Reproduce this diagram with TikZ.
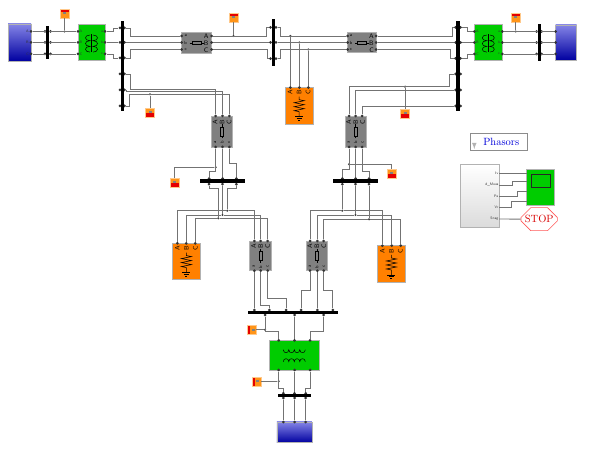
\documentclass[tikz,border=0pt]{standalone}
\usepackage{xcolor}
\usepackage{tikz}
\usetikzlibrary{shapes.misc}
\usetikzlibrary{positioning}
\definecolor{srctop}{HTML}{8484E6}
\definecolor{srcbot}{HTML}{0000A0}
\definecolor{xfgreen}{HTML}{00CC00}
\definecolor{loadorange}{HTML}{FF8000}
\definecolor{brkgray}{HTML}{808080}
\definecolor{tagorange}{HTML}{FF9418}
\tikzset{
  port/.style={circle,fill=black!80,inner sep=0pt,minimum size=3pt},
  jdot/.style={circle,fill=black!75,inner sep=0pt,minimum size=2.4pt},
  wire/.style={draw=black!55,line width=0.9pt},
  busbar/.style={rectangle,fill=black,inner sep=0pt},
  block/.style={rectangle,draw=black!30,line width=0.7pt,inner sep=0pt},
  srcblock/.style={block,top color=srctop,bottom color=srcbot},
  xfblock/.style={block,fill=xfgreen},
  loadblock/.style={block,fill=loadorange,minimum width=28pt,minimum height=36.5pt},
  brkblock/.style={block,fill=brkgray},
  tinytxt/.style={font=\fontsize{3.6}{4}\sffamily,inner sep=0pt,text=black!80},
  bigtxt/.style={font=\fontsize{6.5}{7}\sffamily,inner sep=0pt,text=black,transform shape},
  tagblock/.style={rectangle,inner sep=0pt,minimum width=9pt,minimum height=9pt,fill=tagorange,draw=tagorange!50},
  tagtop/.style={tagblock,path picture={\fill[red!90!black] (path picture bounding box.north west) rectangle ([yshift=-3pt]path picture bounding box.north east); \fill[black!50] (-1.5,-1) rectangle (1.5,1);}},
  tagbot/.style={tagblock,path picture={\fill[red!90!black] (path picture bounding box.south west) rectangle ([yshift=3.5pt]path picture bounding box.south east); \fill[black!50] (-1.5,-1) rectangle (1.5,1);}},
  tagleft/.style={tagblock,path picture={\fill[red!90!black] (path picture bounding box.south west) rectangle ([xshift=3pt]path picture bounding box.north west); \fill[black!50] (0,-1) rectangle (3,1);}},
  xfsymh/.pic={
    \draw[black,line width=0.5pt] (-11,-6) .. controls +(0,4) and +(0,4) .. ++(5.5,0) .. controls +(0,4) and +(0,4) .. ++(5.5,0) .. controls +(0,4) and +(0,4) .. ++(5.5,0) .. controls +(0,4) and +(0,4) .. ++(5.5,0);
    \draw[black,line width=0.5pt] (-11,6) .. controls +(0,-4) and +(0,-4) .. ++(5.5,0) .. controls +(0,-4) and +(0,-4) .. ++(5.5,0) .. controls +(0,-4) and +(0,-4) .. ++(5.5,0) .. controls +(0,-4) and +(0,-4) .. ++(5.5,0);
  },
  xfsymv/.pic={
    \draw[black,line width=0.5pt] (-1.5,-8.5) .. controls +(-6,0) and +(-6,0) .. ++(0,5.7) .. controls +(-6,0) and +(-6,0) .. ++(0,5.7) .. controls +(-6,0) and +(-6,0) .. ++(0,5.7);
    \draw[black,line width=0.5pt] (1.5,-8.5) .. controls +(6,0) and +(6,0) .. ++(0,5.7) .. controls +(6,0) and +(6,0) .. ++(0,5.7) .. controls +(6,0) and +(6,0) .. ++(0,5.7);
    \draw[black,line width=0.5pt] (0,-9) -- (0,9);
  },
  brksym/.pic={
    \draw[black,line width=0.5pt] (-7,0) -- (-4.5,0) (4.5,0) -- (7,0);
    \draw[black,line width=0.5pt] (-4.5,-1.5) rectangle (4.5,1.5);
    \node[bigtxt] (a) at (-11,-7) {\fontsize{4.5}{5}\selectfont a};
    \node[bigtxt] (b) at (-11,0) {\fontsize{4.5}{5}\selectfont b};
    \node[bigtxt] (c) at (-11,7) {\fontsize{4.5}{5}\selectfont c};
    \node[bigtxt] (A) at (9.5,-7) {A};
    \node[bigtxt] (B) at (9.5,0) {B};
    \node[bigtxt] (C) at (9.5,7) {C};
  },
  loadsym/.pic={
    \draw[black,line width=0.55pt] (0,-9) -- (0,-6) -- (5,-5) -- (-5,-3) -- (5,-1) -- (-5,1) -- (5,3) -- (-5,5) -- (0,6) -- (0,11);
    \draw[black,line width=0.55pt] (-4,11) -- (4,11) (-2.5,12.7) -- (2.5,12.7) (-1,14.2) -- (1,14.2);
    \node[bigtxt,rotate=90] (A) at (-9,-13) {A};
    \node[bigtxt,rotate=90] (B) at (0,-13) {B};
    \node[bigtxt,rotate=90] (C) at (9,-13) {C};
  }
}
\begin{document}
\begin{tikzpicture}[x=1pt,y=-1pt]
    \useasboundingbox (0,0) rectangle (595,449);
    % blocks
    \node[srcblock,minimum width=23pt,minimum height=37pt] (srcL) at (19.5,42.5) {};
    \node[srcblock,minimum width=21pt,minimum height=35pt] (srcR) at (566.2,42.5) {};
    \node[srcblock,minimum width=35pt,minimum height=20.5pt] (srcB) at (294.4,432.2) {};
    \node[xfblock,minimum width=27pt,minimum height=36pt] (xfL) at (91.5,42.4) {};
    \node[xfblock,minimum width=28pt,minimum height=36pt] (xfR) at (488.3,42.4) {};
    \node[xfblock,minimum width=50pt,minimum height=29.7pt] (xfB) at (294.3,355.2) {};
    \node[brkblock,minimum width=30pt,minimum height=21pt] (brkL) at (196.7,42.8) {};
    \node[brkblock,minimum width=28.5pt,minimum height=20pt] (brkR) at (362,42.8) {};
    \node[brkblock,minimum width=20.6pt,minimum height=31pt] (brkA) at (222,131.5) {};
    \node[brkblock,minimum width=21pt,minimum height=31pt] (brkB) at (355.5,131.5) {};
    \node[brkblock,minimum width=22.4pt,minimum height=29.7pt] (brkC) at (260.5,255.8) {};
    \node[brkblock,minimum width=21.7pt,minimum height=29.7pt] (brkD) at (316.9,255.8) {};
    \node[loadblock] (loadC) at (299.2,105.7) {};
    \node[loadblock] (loadL) at (186.4,261.6) {};
    \node[loadblock] (loadR) at (391.4,264) {};
    % symbols in the blocks
    \pic (symxfL) at (91.5,43.5) {xfsymv};
    \pic (symxfR) at (488.3,43.5) {xfsymv};
    \pic (symxfB) at (294.3,355.7) {xfsymh};
    \pic (symbrkL) at (196.7,42.8) {brksym};
    \pic (symbrkR) at (362,42.8) {brksym};
    \pic (symbrkA) at (222,131.5) [rotate=90] {brksym};
    \pic (symbrkB) at (355.5,131.5) [rotate=90] {brksym};
    \pic (symbrkC) at (260.5,255.8) [rotate=90] {brksym};
    \pic (symbrkD) at (316.9,255.8) [rotate=90] {brksym};
    \pic (symloadC) at (299.2,105.7) {loadsym};
    \pic (symloadL) at (186.4,261.6) {loadsym};
    \pic (symloadR) at (391.4,264) {loadsym};
    % tiny labels
    \node[tinytxt] (srcLa) at (27.5,31.5) {A};
    \node[tinytxt] (srcLb) at (27.5,42.5) {B};
    \node[tinytxt] (srcLc) at (27.5,54) {C};
    \node[tinytxt] (xfLa) at (81,31.5) {A};
    \node[tinytxt] (xfLb) at (81,42.5) {B};
    \node[tinytxt] (xfLc) at (81,54) {C};
    \node[tinytxt] (xfLd) at (102,31.5) {a};
    \node[tinytxt] (xfLe) at (102,42.5) {b};
    \node[tinytxt] (xfLf) at (102,54) {c};
    \node[tinytxt] (xfRa) at (477.5,31.5) {A};
    \node[tinytxt] (xfRb) at (477.5,42.5) {B};
    \node[tinytxt] (xfRc) at (477.5,54) {C};
    \node[tinytxt] (xfRd) at (499,31.5) {a};
    \node[tinytxt] (xfRe) at (499,42.5) {b};
    \node[tinytxt] (xfRf) at (499,54) {c};
    % ports
    \begin{scope}[every node/.style={port}]
      \node (sla) at (31,31.5) {};
      \node (slb) at (31,42.5) {};
      \node (slc) at (31,54) {};
      \node (bala) at (45,31.5) {};
      \node (balb) at (45,42.5) {};
      \node (balc) at (45,54) {};
      \node (bara) at (50.5,31.5) {};
      \node (barb) at (50.5,42.5) {};
      \node (barc) at (50.5,54) {};
      \node (xla) at (78,31.5) {};
      \node (xlb) at (78,42.5) {};
      \node (xlc) at (78,54) {};
      \node (xlA) at (105,31.5) {};
      \node (xlB) at (105,42.5) {};
      \node (xlC) at (105,54) {};
      \node (bbl1) at (120,28) {};
      \node (bbl2) at (120,42.5) {};
      \node (bbl3) at (120,58) {};
      \node (bbl4) at (120,74) {};
      \node (bbl5) at (120,90) {};
      \node (bbl6) at (120,106) {};
      \node (bbr1) at (124.5,28) {};
      \node (bbr2) at (124.5,42.5) {};
      \node (bbr3) at (124.5,58) {};
      \node (bbr4) at (124.5,74) {};
      \node (bbr5) at (124.5,90) {};
      \node (bbr6) at (124.5,106) {};
      \node (kla) at (181.7,36) {};
      \node (klb) at (181.7,42.5) {};
      \node (klc) at (181.7,49.5) {};
      \node (klA) at (211.7,36) {};
      \node (klB) at (211.7,42.5) {};
      \node (klC) at (211.7,49.5) {};
      \node (bcl1) at (270.5,27.3) {};
      \node (bcl2) at (270.5,42.5) {};
      \node (bcl3) at (270.5,58.7) {};
      \node (bcr1) at (276,27.3) {};
      \node (bcr2) at (276,42.5) {};
      \node (bcr3) at (276,58.7) {};
      \node (kra) at (347.7,36) {};
      \node (krb) at (347.7,42.5) {};
      \node (krc) at (347.7,49.5) {};
      \node (krA) at (376.2,36) {};
      \node (krB) at (376.2,42.5) {};
      \node (krC) at (376.2,49.5) {};
      \node (bdl1) at (455.5,27.3) {};
      \node (bdl2) at (455.5,42.5) {};
      \node (bdl3) at (455.5,58.3) {};
      \node (bdl4) at (455.5,74) {};
      \node (bdl5) at (455.5,90) {};
      \node (bdl6) at (455.5,106) {};
      \node (bdr1) at (460.5,27.3) {};
      \node (bdr2) at (460.5,42.5) {};
      \node (bdr3) at (460.5,58.3) {};
      \node (bdr4) at (460.5,74) {};
      \node (bdr5) at (460.5,90) {};
      \node (bdr6) at (460.5,106) {};
      \node (xra) at (474.3,31.5) {};
      \node (xrb) at (474.3,42.5) {};
      \node (xrc) at (474.3,54) {};
      \node (xrA) at (502.3,31.5) {};
      \node (xrB) at (502.3,42.5) {};
      \node (xrC) at (502.3,54) {};
      \node (bel1) at (536.7,31.5) {};
      \node (bel2) at (536.7,42.5) {};
      \node (bel3) at (536.7,54) {};
      \node (ber1) at (541.5,31.5) {};
      \node (ber2) at (541.5,42.5) {};
      \node (ber3) at (541.5,54) {};
      \node (sra) at (555.7,31.5) {};
      \node (srb) at (555.7,42.5) {};
      \node (src) at (555.7,54) {};
      \node (lca) at (290.3,87.5) {};
      \node (lcb) at (299.3,87.5) {};
      \node (lcc) at (308.3,87.5) {};
      \node (kaA) at (215.7,116) {};
      \node (kaB) at (222.5,116) {};
      \node (kaC) at (229.3,116) {};
      \node (kaa) at (215.7,147) {};
      \node (kab) at (222.5,147) {};
      \node (kac) at (229.3,147) {};
      \node (kbA) at (349,116) {};
      \node (kbB) at (355.5,116) {};
      \node (kbC) at (362,116) {};
      \node (kba) at (349,147) {};
      \node (kbb) at (355.5,147) {};
      \node (kbc) at (362,147) {};
      \node (bft1) at (209,178.5) {};
      \node (bft2) at (222.5,178.5) {};
      \node (bft3) at (236.3,178.5) {};
      \node (bfb1) at (209,184.2) {};
      \node (bfb2) at (222.5,184.2) {};
      \node (bfb3) at (236.3,184.2) {};
      \node (bgt1) at (342.3,178.5) {};
      \node (bgt2) at (355.5,178.5) {};
      \node (bgt3) at (369,178.5) {};
      \node (bgb1) at (342.3,184.2) {};
      \node (bgb2) at (355.5,184.2) {};
      \node (bgb3) at (369,184.2) {};
      \node (lla) at (177.3,243.3) {};
      \node (llb) at (186.2,243.3) {};
      \node (llc) at (195.2,243.3) {};
      \node (kcA) at (254.3,241) {};
      \node (kcB) at (260.7,241) {};
      \node (kcC) at (267.7,241) {};
      \node (kca) at (254.3,270.7) {};
      \node (kcb) at (260.7,270.7) {};
      \node (kcc) at (267.7,270.7) {};
      \node (kdA) at (310,241) {};
      \node (kdB) at (317.3,241) {};
      \node (kdC) at (323.7,241) {};
      \node (kda) at (310,270.7) {};
      \node (kdb) at (317.3,270.7) {};
      \node (kdc) at (323.7,270.7) {};
      \node (lra) at (382.3,245.7) {};
      \node (lrb) at (391.7,245.7) {};
      \node (lrc) at (400.7,245.7) {};
      \node (bht1) at (254.3,310) {};
      \node (bht2) at (269.3,310) {};
      \node (bht3) at (286,310) {};
      \node (bht4) at (301,310) {};
      \node (bht5) at (317.3,310) {};
      \node (bht6) at (332.8,310) {};
      \node (bhb1) at (265,315) {};
      \node (bhb2) at (294.5,315) {};
      \node (bhb3) at (323.7,315) {};
      \node (xba) at (278.7,340.3) {};
      \node (xbb) at (294.5,340.3) {};
      \node (xbc) at (310,340.3) {};
      \node (xbA) at (278.7,370) {};
      \node (xbB) at (294.5,370) {};
      \node (xbC) at (310,370) {};
      \node (bit1) at (283.3,393.3) {};
      \node (bit2) at (294.5,393.3) {};
      \node (bit3) at (305.7,393.3) {};
      \node (bib1) at (283.3,398) {};
      \node (bib2) at (294.5,398) {};
      \node (bib3) at (305.7,398) {};
      \node (sba) at (283.3,422) {};
      \node (sbb) at (294.5,422) {};
      \node (sbc) at (305.7,422) {};
    \end{scope}
    % junctions
    \begin{scope}[every node/.style={jdot}]
      \node (jA) at (64.5,31.5) {};
      \node (jB) at (233.5,36) {};
      \node (jC) at (150,94.3) {};
      \node (jD) at (215.7,167.3) {};
      \node (jE) at (349,164.3) {};
      \node (jF) at (405,86.7) {};
      \node (jG) at (515.7,31.5) {};
      \node (jH) at (265,329.7) {};
      \node (jI) at (278.7,381.3) {};
      \node (jc1) at (290.3,36) {};
      \node (jc2) at (299.3,42.5) {};
      \node (jc3) at (308.3,49.5) {};
      \node (jl1) at (227.3,210.7) {};
      \node (jl2) at (222.5,215) {};
      \node (jl3) at (218.3,218.3) {};
      \node (jr1) at (342.3,210.7) {};
      \node (jr2) at (355.5,215) {};
      \node (jr3) at (369,219.3) {};
    \end{scope}
    % scope tags
    \node[tagtop] (tgA) at (64.5,13.5) {};
    \node[tagtop] (tgB) at (233.5,17.5) {};
    \node[tagbot] (tgC) at (150,112.5) {};
    \node[tagbot] (tgD) at (174.7,182.5) {};
    \node[tagbot] (tgE) at (391.7,173.5) {};
    \node[tagbot] (tgF) at (405,113.5) {};
    \node[tagtop] (tgG) at (515.7,17.5) {};
    \node[tagleft] (tgH) at (251.7,329.7) {};
    \node[tagleft] (tgI) at (256.2,381.3) {};
    % wires, left side
    \begin{scope}[every edge/.style={wire}]
      \path (sla) edge (xla);
      \path (slb) edge (xlb);
      \path (slc) edge (xlc);
      \path (xlB) edge (bbl2);
      \path (bbr2) edge (klb);
      \path (klB) edge (bcl2);
      \path (bcr2) edge (krb);
      \path (krB) edge (bdl2);
      \path (bdr2) edge (xrb);
      \path (xrA) edge (sra);
      \path (xrB) edge (srb);
      \path (xrC) edge (src);
      \path (kab) edge (bft2);
      \path (kbb) edge (bgt2);
      \path (bfb2) edge (jl2);
      \path (bgb1) edge (jr1);
      \path (bgb2) edge (jr2);
      \path (bgb3) edge (jr3);
      \path (kca) edge (bht1);
      \path (kdb) edge (bht5);
      \path (bhb2) edge (xbb);
      \path (xbB) edge (bit2);
      \path (bib1) edge (sba);
      \path (bib2) edge (sbb);
      \path (bib3) edge (sbc);
      \path (jc1) edge (lca);
      \path (jc2) edge (lcb);
      \path (jc3) edge (lcc);
      \path (tgA) edge (jA);
      \path (tgB) edge (jB);
      \path (jC) edge (tgC);
      \path (jF) edge (tgF);
      \path (tgG) edge (jG);
      \path (tgH) edge (jH);
      \path (tgI) edge (jI);
    \end{scope}
    \draw[wire] (xlA) -- ++(8,0) |- (bbl1);
    \draw[wire] (xlC) -- ++(8,0) |- (bbl3);
    \draw[wire] (bbr1) -- ++(6,0) |- (kla);
    \draw[wire] (bbr3) -- ++(6,0) |- (klc);
    \draw[wire] (klA) -- ++(54.5,0) |- (bcl1);
    \draw[wire] (klC) -- ++(55.5,0) |- (bcl3);
    \draw[wire] (bcr1) -- ++(4,0) |- (kra);
    \draw[wire] (bcr3) -- ++(4,0) |- (krc);
    \draw[wire] (krA) -- ++(76.5,0) |- (bdl1);
    \draw[wire] (krC) -- ++(74,0) |- (bdl3);
    \draw[wire] (bdr1) -- ++(7,0) |- (xra);
    \draw[wire] (bdr3) -- ++(7,0) |- (xrc);
    \draw[wire] (bbr4) -- ++(6,0) -- ++(0,15.5) -| (kaA);
    \draw[wire] (bbr5) -- ++(2,0) -- ++(0,1.5) -| (kaB);
    \draw[wire] (bbr6) -- ++(5,0) -- ++(0,-11.7) -| (kaC);
    \draw[wire] (bdl4) -- ++(-6,0) -- ++(0,12.7) -| (kbA);
    \draw[wire] (bdl5) -| (kbB);
    \draw[wire] (bdl6) -| (kbC);
    \draw[wire] (kaa) -- ++(0,24) -| (bft1);
    \draw[wire] (kac) -- ++(0,16.5) -| (bft3);
    \draw[wire] (kba) -- ++(0,22.3) -| (bgt1);
    \draw[wire] (kbc) -- ++(0,24) -| (bgt3);
    \draw[wire] (tgD) |- (jD);
    \draw[wire] (tgE) |- (jE);
    \draw[wire] (bfb1) -- ++(0,4.5) -| (jl3);
    \draw[wire] (bfb3) -- ++(0,4.5) -| (jl1);
    \draw[wire] (lla) |- (jl1) -| (kcA);
    \draw[wire] (llb) |- (jl2) -| (kcB);
    \draw[wire] (llc) |- (jl3) -| (kcC);
    \draw[wire] (kdA) |- (jr1) -| (lra);
    \draw[wire] (kdB) |- (jr2) -| (lrb);
    \draw[wire] (kdC) |- (jr3) -| (lrc);
    \draw[wire] (kcb) -- ++(0,34.3) -| (bht2);
    \draw[wire] (kcc) -- ++(0,27.6) -| (bht3);
    \draw[wire] (kda) -- ++(0,20) -| (bht4);
    \draw[wire] (kdc) -- ++(0,20) -| (bht6);
    \draw[wire] (bhb1) -- ++(0,16.5) -| (xba);
    \draw[wire] (bhb3) -- ++(0,16.5) -| (xbc);
    \draw[wire] (xbA) -- ++(0,18) -| (bit1);
    \draw[wire] (xbC) -- ++(0,18) -| (bit3);
    % bus bars
    \node[busbar,minimum width=3.5pt,minimum height=33pt] (busA) at (47.7,42.5) {};
    \node[busbar,minimum width=3pt,minimum height=90pt] (busB) at (122.2,66) {};
    \node[busbar,minimum width=3.2pt,minimum height=47pt] (busC) at (273.2,42.5) {};
    \node[busbar,minimum width=3.2pt,minimum height=90pt] (busD) at (458,66) {};
    \node[busbar,minimum width=3.2pt,minimum height=37pt] (busE) at (539.2,42.5) {};
    \node[busbar,minimum width=44.7pt,minimum height=3.6pt] (busF) at (222.3,181.3) {};
    \node[busbar,minimum width=44.4pt,minimum height=3.6pt] (busG) at (355.5,181.3) {};
    \node[busbar,minimum width=90.3pt,minimum height=3.6pt] (busH) at (293.2,312.5) {};
    \node[busbar,minimum width=32.5pt,minimum height=3.4pt] (busI) at (294.5,395.7) {};
    % phasors and the measurement group
    \node[rectangle,draw=black!45,line width=0.6pt,inner sep=0pt,minimum width=57pt,minimum height=17.4pt,font=\fontsize{10.5}{11}\selectfont,text=blue!85!black] (phasors) at (498.7,142) {\hspace{5pt}Phasors};
    \coordinate (phup) at (474.3,144.5);
    \coordinate (phdn) at (474.3,149);
    \draw[black!30,line width=1.1pt,-latex] (phup) -- (phdn);
    \node[block,top color=white,bottom color=black!14,minimum width=38.4pt,minimum height=63pt] (meas) at (479.8,195.8) {};
    \node[xfblock,minimum width=27.4pt,minimum height=35.8pt] (scop) at (540.4,187.2) {};
    \node[rectangle,draw=black!85,line width=0.7pt,inner sep=0pt,minimum width=19.6pt,minimum height=13pt] (screen) at (540.9,180.8) {};
    \node[chamfered rectangle,chamfered rectangle xsep=6pt,chamfered rectangle ysep=6pt,draw=red!65,line width=0.6pt,fill=white,inner sep=0pt,minimum width=30.3pt,minimum height=23pt,font=\fontsize{10.5}{11}\selectfont,text=red!85!black] (stopb) at (539.2,219.2) {STOP};
    \coordinate (m1) at (499,173.3);
    \coordinate (m2) at (499,185);
    \coordinate (m3) at (499,196);
    \coordinate (m4) at (499,207.3);
    \coordinate (m5) at (499,219);
    \coordinate (s1) at (526.7,173.3);
    \coordinate (s2) at (526.7,181.7);
    \coordinate (s3) at (526.7,191.7);
    \coordinate (s4) at (526.7,201);
    \draw[wire] (m1) -- (s1);
    \draw[wire] (m2) -- ++(13.3,0) |- (s2);
    \draw[wire] (m3) -- ++(18.7,0) |- (s3);
    \draw[wire] (m4) -- ++(12.7,0) |- (s4);
    \draw[wire] (m5) -- (stopb);
    \node[tinytxt,left=0.5pt of m1] (lbIv) {Iv};
    \node[tinytxt,left=0.5pt of m2] (lbMeas) {d\_Meas};
    \node[tinytxt,left=0.5pt of m3] (lbPa) {Pa};
    \node[tinytxt,left=0.5pt of m4] (lbVr) {Vr};
    \node[tinytxt,left=0.5pt of m5] (lbSnag) {Snag};
\end{tikzpicture}
\end{document}
